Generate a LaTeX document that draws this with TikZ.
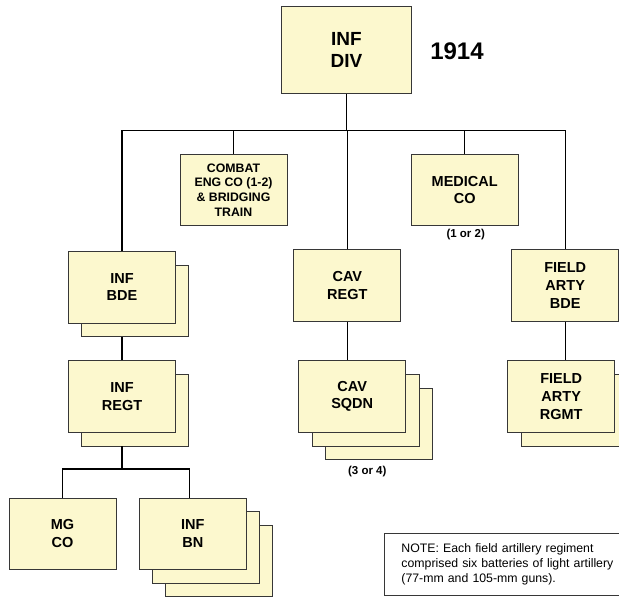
\documentclass[tikz,border=0pt]{standalone}
\usepackage{fontspec}
\setmainfont{Liberation Sans}
\usepackage{xcolor}
\usepackage{tikz}
\usetikzlibrary{positioning,calc}
\definecolor{unitfill}{RGB}{252,248,206}
\definecolor{unitline}{RGB}{55,55,55}
\tikzset{
  % Generic unit box
  unit/.style={rectangle, align=center, draw=unitline, line width=0.9pt,
               fill=unitfill, text=black, inner sep=0pt,
               font=\fontsize{14.5}{17.6}\selectfont\bfseries,
               minimum width=107pt, minimum height=71.5pt},
  % Top (division) box
  topunit/.style={unit, minimum width=129.6pt, minimum height=86.6pt,
                  font=\fontsize{19}{22.7}\selectfont\bfseries},
  % Smaller text variant
  smallunit/.style={unit, font=\fontsize{12.3}{14.7}\selectfont\bfseries},
  % Count labels
  countlbl/.style={font=\fontsize{11.5}{13}\selectfont\bfseries, inner sep=0pt},
  % Note box
  notebox/.style={rectangle, draw=unitline, line width=0.9pt, fill=white,
                  align=left, text width=212pt, inner xsep=17pt,
                  minimum height=62.3pt,
                  font=\fontsize{12.3}{14.7}\selectfont},
  % Connectors
  conn/.style={draw=black, line width=1.3pt},
}

\begin{document}
\begin{tikzpicture}[x=1pt,y=-1pt]
    \useasboundingbox (0,0) rectangle (619,597);

    % ── Division ───────────────────────────────────────────
    \node[topunit] (div) at (346.5,50) {INF\\DIV};
    \node[font=\fontsize{24}{26}\selectfont\bfseries] (year) at (457,51) {1914};

    % ── Divisional troops ─────────────────────────────────
    \node[smallunit] (eng) at (233.5,190)
          {COMBAT\\ENG CO (1-2)\\\& BRIDGING\\TRAIN};
    \node[unit] (med) at (464.7,190) {MEDICAL\\CO};
    \node[countlbl] (medcnt) at (465.7,235) {(1 or 2)};

    % ── Brigades / regiments ──────────────────────────────
    \node[unit] (bde-s1) at (135.3,300.9) {};
    \node[unit] (bde) at (122,287.2) {INF\\BDE};
    \node[unit] (cavregt) at (347.3,285.5) {CAV\\REGT};
    \node[unit] (artybde) at (565.2,285.5) {FIELD\\ARTY\\BDE};

    \node[unit] (regt-s1) at (135.3,410.2) {};
    \node[unit] (regt) at (122,396.5) {INF\\REGT};

    \node[unit] (sqdn-s2) at (378.8,423.9) {};
    \node[unit] (sqdn-s1) at (365.5,410.2) {};
    \node[unit] (sqdn) at (352.2,396.5) {CAV\\SQDN};
    \node[countlbl] (sqdncnt) at (367.3,471.7) {(3 or 4)};

    \node[unit] (rgmt-s1) at (574.5,410.2) {};
    \node[unit] (rgmt) at (561.2,396.5) {FIELD\\ARTY\\RGMT};

    % ── Companies / battalions ────────────────────────────
    \node[unit] (mg) at (62.5,533.7) {MG\\CO};
    \node[unit] (bn-s2) at (219.4,561.1) {};
    \node[unit] (bn-s1) at (206.1,547.4) {};
    \node[unit] (bn) at (192.8,533.7) {INF\\BN};

    % ── Note ──────────────────────────────────────────────
    \node[notebox,anchor=north west] (note) at (384,532.7)
          {NOTE: Each field artillery regiment\\
           comprised six batteries of light artillery\\
           (77-mm and 105-mm guns).};

    % ── Connectors ────────────────────────────────────────
    \coordinate (bus) at (346.5,130.7);
    \draw[conn] (div.south) -- (bus);
    \draw[conn] (bde.north) |- (bus) -| (artybde.north);
    \draw[conn] (eng.north) -- (eng.north |- bus);
    \draw[conn] (med.north) -- (med.north |- bus);
    \draw[conn] (cavregt.north) -- (cavregt.north |- bus);
    \draw[conn] (bde-s1.south -| bde.south) -- (regt.north);
    \draw[conn] (cavregt.south) -- (cavregt.south |- sqdn.north);
    \draw[conn] (artybde.south) -- (artybde.south |- rgmt.north);

    \coordinate (subbus) at (122,469);
    \draw[conn] (regt-s1.south -| regt.south) -- (subbus);
    \draw[conn] (mg.north) |- (subbus) -| ([xshift=-3pt]bn.north);

  \end{tikzpicture}
\end{document}
